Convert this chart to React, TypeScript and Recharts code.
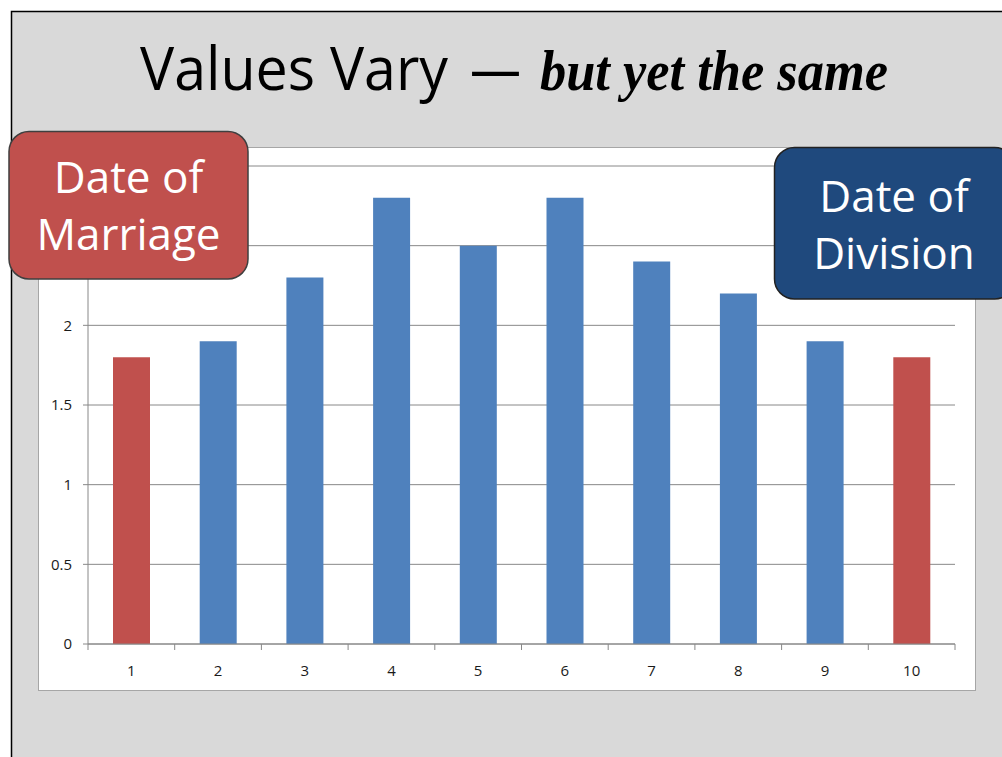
import React from 'react';
import { BarChart, Bar, Cell, XAxis, YAxis, CartesianGrid } from 'recharts';

const categories = ['1', '2', '3', '4', '5', '6', '7', '8', '9', '10'];
const values = [1.8, 1.9, 2.3, 2.8, 2.5, 2.8, 2.4, 2.2, 1.9, 1.8];
const yTicks = [0, 0.5, 1, 1.5, 2, 2.5, 3];

const data = categories.map((name, i) => ({ name, value: values[i] }));

const BLUE = '#4f81bd';
const RED = '#c0504d';
const GRID = '#888888';
const FONT = '"Open Sans", "Noto Sans", sans-serif';

const CHART_W = 936;
const CHART_H = 542;
const MARGIN = { top: 18, right: 20, bottom: 0, left: 0 };
const Y_AXIS_W = 49;
const X_AXIS_H = 46;
const PLOT_W = CHART_W - MARGIN.left - MARGIN.right - Y_AXIS_W;
const PLOT_BOTTOM = CHART_H - MARGIN.bottom - X_AXIS_H;
const BAND = PLOT_W / categories.length;

// ticks sit on category boundaries, labels in the middle (Excel style)
const XTick = (props: any) => {
  const { x, payload, index } = props;
  const left = x - BAND / 2;
  const right = x + BAND / 2;
  return (
    <g>
      <line x1={left} x2={left} y1={PLOT_BOTTOM} y2={PLOT_BOTTOM + 6} stroke={GRID} />
      {index === categories.length - 1 && (
        <line x1={right} x2={right} y1={PLOT_BOTTOM} y2={PLOT_BOTTOM + 6} stroke={GRID} />
      )}
      <text x={x} y={PLOT_BOTTOM + 32} textAnchor="middle" fontSize={15} fill="#1a1a1a" fontFamily={FONT}>
        {payload.value}
      </text>
    </g>
  );
};

// the 2.5 and 3 labels are hidden behind the red callout in the slide
const YTick = (props: any) => {
  const { x, y, payload } = props;
  if (payload.value > 2) return <g />;
  return (
    <text x={x} y={y} dy="0.355em" textAnchor="end" fontSize={15} fill="#1a1a1a" fontFamily={FONT}>
      {payload.value}
    </text>
  );
};

const App: React.FC = () => {
  return (
    <div style={{ position: 'absolute', left: 0, top: 0, width: 1002, height: 757, overflow: 'hidden', background: '#fff' }}>
      {/* slide background + title */}
      <svg width={1002} height={757} style={{ position: 'absolute', left: 0, top: 0 }}>
        <rect x={11.5} y={11.5} width={1000} height={760} fill="#d9d9d9" stroke="#000" strokeWidth={1.5} />
        <text x={140} y={90} fontSize={60} fontFamily={FONT} fill="#000" textLength={308} lengthAdjust="spacingAndGlyphs">
          Values Vary
        </text>
        <text x={470} y={90} fontSize={60} fontFamily={FONT} fill="#000" textLength={51} lengthAdjust="spacingAndGlyphs">
          —
        </text>
        <text
          x={540}
          y={90}
          fontSize={56}
          fontFamily='"Liberation Serif", "DejaVu Serif", serif'
          fontStyle="italic"
          fontWeight="bold"
          fill="#000"
          textLength={348}
          lengthAdjust="spacingAndGlyphs"
        >
          but yet the same
        </text>
      </svg>

      <div
        style={{
          position: 'absolute',
          left: 38,
          top: 147,
          width: 938,
          height: 544,
          boxSizing: 'border-box',
          background: '#fff',
          border: '1px solid #a6a6a6',
        }}
      >
        <BarChart width={CHART_W} height={CHART_H} data={data} margin={MARGIN}>
          <CartesianGrid vertical={false} stroke={GRID} />
          <XAxis
            dataKey="name"
            interval={0}
            height={X_AXIS_H}
            tickLine={false}
            axisLine={{ stroke: GRID }}
            tick={<XTick />}
          />
          <YAxis
            width={Y_AXIS_W}
            domain={[0, 3]}
            ticks={yTicks}
            interval={0}
            tickSize={5}
            tickMargin={11}
            tickLine={{ stroke: GRID }}
            axisLine={{ stroke: GRID }}
            tick={<YTick />}
          />
          <Bar dataKey="value" barSize={37} isAnimationActive={false}>
            {data.map((entry, index) => (
              <Cell key={`cell-${index}`} fill={index === 0 || index === data.length - 1 ? RED : BLUE} />
            ))}
          </Bar>
        </BarChart>
      </div>

      {/* callout boxes */}
      <svg width={1002} height={757} style={{ position: 'absolute', left: 0, top: 0, pointerEvents: 'none' }}>
        <rect x={9} y={131.5} width={239} height={147.5} rx={20} fill={RED} stroke="#3f3f3f" strokeWidth={1.5} />
        <text x={128.5} y={193} textAnchor="middle" fontSize={44} fontFamily={FONT} fill="#fff">
          Date of
        </text>
        <text x={128.5} y={250} textAnchor="middle" fontSize={44} fontFamily={FONT} fill="#fff">
          Marriage
        </text>
        <rect x={774.5} y={147.5} width={240} height={151.5} rx={20} fill="#1f497d" stroke="#222" strokeWidth={1.5} />
        <text x={894} y={212} textAnchor="middle" fontSize={44} fontFamily={FONT} fill="#fff">
          Date of
        </text>
        <text x={894} y={269} textAnchor="middle" fontSize={44} fontFamily={FONT} fill="#fff">
          Division
        </text>
      </svg>
    </div>
  );
};

export default App;
